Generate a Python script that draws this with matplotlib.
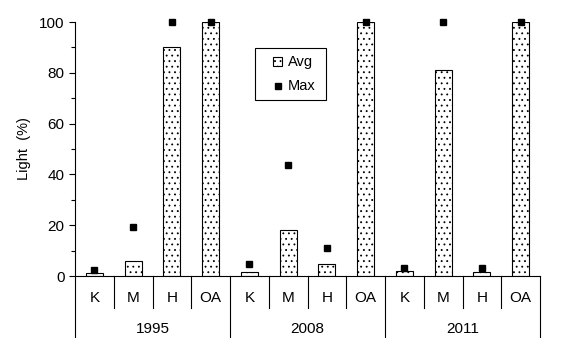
import numpy as np
import matplotlib.pyplot as plt
from matplotlib.patches import Rectangle
from matplotlib.ticker import MultipleLocator

plt.rcParams['font.family'] = ['Liberation Sans', 'DejaVu Sans']
plt.rcParams['hatch.linewidth'] = 0.6

## Datos
years   = ['1995', '2008', '2011']
sites   = ['K', 'M', 'H', 'OA']
avg     = [1.0, 6.0, 90.0, 100.0,
           1.5, 18.0, 4.7, 100.0,
           2.0, 81.0, 1.5, 100.0]
maxv    = [2.5, 19.3, 100.0, 100.0,
           4.9, 43.6, 11.2, 100.0,
           3.3, 100.0, 3.3, 100.0]

labels  = sites * len(years)
x       = np.arange(len(labels))

fig = plt.figure(figsize=(5.71, 3.38), dpi=100)
ax  = fig.add_axes([75/571, 62/338, 465/571, 254/338])

ax.bar(x, avg, width=0.44, color='white', edgecolor='black',
       linewidth=0.8, hatch='...', zorder=2)
ax.plot(x, maxv, 's', color='black', markersize=4.5, clip_on=False, zorder=3)

ax.set_xlim(-0.5, len(labels) - 0.5)
ax.set_ylim(0, 100)
ax.yaxis.set_major_locator(MultipleLocator(20))
ax.yaxis.set_minor_locator(MultipleLocator(10))
ax.tick_params(axis='y', which='major', length=4, labelsize=11, width=0.8)
ax.tick_params(axis='y', which='minor', length=3, width=0.8)
ax.set_xticks([])
ax.spines['top'].set_visible(False)
ax.spines['right'].set_visible(False)
for s in ['left', 'bottom']:
    ax.spines[s].set_linewidth(0.8)
ax.set_ylabel('Light  (%)', fontsize=10.5, labelpad=6)

## Separadores del eje x
trans = ax.get_xaxis_transform()
for i in range(len(labels) + 1):
    xb = i - 0.5
    if i % len(sites) == 0:
        ax.plot([xb, xb], [0, -0.245], color='black', lw=0.8,
                transform=trans, clip_on=False)
    else:
        ax.plot([xb, xb], [0, -0.126], color='black', lw=0.8,
                transform=trans, clip_on=False)

for i, lab in enumerate(labels):
    ax.text(i, -0.085, lab, transform=trans, ha='center', va='center',
            fontsize=11)
for j, yr in enumerate(years):
    xc = j * len(sites) + (len(sites) - 1) / 2
    ax.text(xc, -0.21, yr, transform=trans, ha='center', va='center',
            fontsize=11)

## Leyenda (a mano)
ta = ax.transAxes
ax.add_patch(Rectangle((0.387, 0.693), 0.153, 0.205, transform=ta,
                       facecolor='white', edgecolor='black', lw=0.8,
                       clip_on=False, zorder=4))
ax.add_patch(Rectangle((0.425, 0.825), 0.021, 0.038, transform=ta,
                       facecolor='white', edgecolor='black', lw=0.8,
                       hatch='...', clip_on=False, zorder=5))
ax.plot([0.436], [0.748], 's', color='black', markersize=4.5,
        transform=ta, clip_on=False, zorder=5)
ax.text(0.458, 0.844, 'Avg', transform=ta, ha='left', va='center',
        fontsize=10.5, zorder=5)
ax.text(0.458, 0.748, 'Max', transform=ta, ha='left', va='center',
        fontsize=10.5, zorder=5)

fig.savefig('out.png', dpi=100)
